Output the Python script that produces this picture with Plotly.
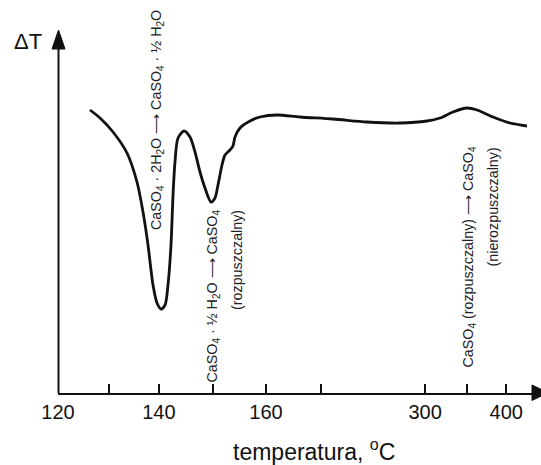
import plotly.graph_objects as go

# DTA curve of gypsum dehydration. The temperature axis is not linear, so the
# curve is stored in axis-scale units (position) with the temperature labels
# attached to chosen tick positions; dT is in arbitrary units.
position = [0.615, 0.808, 1.058, 1.327, 1.519, 1.635, 1.731, 1.827, 1.904, 1.981,
            2.058, 2.115, 2.173, 2.212, 2.25, 2.308, 2.423, 2.538, 2.635, 2.731,
            2.827, 2.942, 3.019, 3.077, 3.154, 3.212, 3.308, 3.365, 3.404, 3.5,
            3.692, 3.885, 4.212, 4.654, 5.288, 5.942, 6.577, 7.096, 7.346, 7.596,
            7.865, 8.058, 8.365, 8.692, 9.019]
delta_t = [28.3, 27.5, 26.1, 24.0, 21.1, 18.1, 14.8, 10.8, 9.0, 8.4,
           8.8, 10.8, 14.8, 19.8, 23.1, 25.5, 26.2, 25.6, 24.1, 22.1,
           20.5, 19.1, 19.5, 20.8, 22.8, 23.8, 24.3, 24.7, 25.6, 26.5,
           27.2, 27.6, 27.8, 27.6, 27.4, 27.1, 27.0, 27.2, 27.5, 28.1,
           28.5, 28.3, 27.6, 27.0, 26.7]

# labelled temperature ticks and the unlabelled ticks between them
tick_positions = [0, 1.94, 4.0, 7.06, 8.62]
tick_labels = ["120", "140", "160", "300", "400"]
minor_tick_positions = [0.98, 2.98, 5.06, 7.87]

# reaction labels, one entry per text line: (text, position, top of the line in dT units)
reaction_lines = [
    ("CaSO<sub>4</sub> · 2H<sub>2</sub>O ⟶ CaSO<sub>4</sub> · ½ H<sub>2</sub>O", 1.904, 38.5),
    ("CaSO<sub>4</sub> · ½ H<sub>2</sub>O ⟶ CaSO<sub>4</sub>", 2.962, 18.5),
    ("(rozpuszczalny)", 3.442, 18.5),
    ("CaSO<sub>4</sub> (rozpuszczalny) ⟶ CaSO<sub>4</sub>", 7.885, 24.8),
    ("(nierozpuszczalny)", 8.365, 24.8),
]

W, H = 541, 465
ML, MB = 58, 72
PW, PH = W - ML, H - MB
XMAX = PW / 52.0
YMAX = PH / 10.0

font_main = "Liberation Sans, Arial, sans-serif"
INK = "#111111"


def px_x(p):
    return (p - ML) / PW


def px_y(p):
    return (PH - p) / PH


fig = go.Figure()
fig.add_trace(go.Scatter(
    x=position, y=delta_t, mode="lines",
    line=dict(color=INK, width=2.8, shape="spline", smoothing=0.8),
    hoverinfo="skip", showlegend=False,
))

annotations = []
for txt, xp, top in reaction_lines:
    annotations.append(dict(
        x=xp, y=top, xref="x", yref="y", text=txt, showarrow=False,
        textangle=-90, xanchor="center", yanchor="top",
        font=dict(family=font_main, size=14.3, color="#222222"),
    ))

annotations.append(dict(
    x=px_x(44), y=px_y(42), xref="paper", yref="paper", text="ΔT",
    xanchor="right", yanchor="middle",
    showarrow=False, font=dict(family=font_main, size=22, color=INK),
))
annotations.append(dict(
    x=px_x(314), y=px_y(467), xref="paper", yref="paper",
    text="temperatura, <sup>o</sup>C", showarrow=False,
    xanchor="center", yanchor="bottom",
    font=dict(family=font_main, size=23, color=INK),
))

shapes = [
    # vertical axis line and its arrowhead
    dict(type="line", xref="paper", yref="paper",
         x0=px_x(58.5), x1=px_x(58.5), y0=px_y(393), y1=px_y(44),
         line=dict(color=INK, width=2)),
    dict(type="path", xref="paper", yref="paper", fillcolor=INK,
         line=dict(color=INK, width=1),
         path=(f"M {px_x(52)} {px_y(49)} L {px_x(65)} {px_y(49)} "
               f"L {px_x(58.5)} {px_y(30)} Z")),
    # horizontal axis arrowhead
    dict(type="path", xref="paper", yref="paper", fillcolor=INK,
         line=dict(color=INK, width=1),
         path=(f"M {px_x(532)} {px_y(385)} L {px_x(532)} {px_y(400.5)} "
               f"L {px_x(548)} {px_y(392.7)} Z")),
]

fig.update_layout(
    width=W, height=H,
    margin=dict(l=ML, r=0, t=0, b=MB),
    paper_bgcolor="white", plot_bgcolor="white",
    font=dict(family=font_main, size=20, color=INK),
    xaxis=dict(
        range=[0, XMAX], showgrid=False, zeroline=False,
        showline=True, linecolor=INK, linewidth=2,
        ticks="inside", ticklen=9, tickwidth=1.5, tickcolor=INK,
        tickmode="array", tickvals=tick_positions, ticktext=tick_labels,
        tickfont=dict(family=font_main, size=20, color=INK),
        minor=dict(tickmode="array", tickvals=minor_tick_positions,
                   ticks="inside", ticklen=9, tickwidth=1.5, tickcolor=INK,
                   showgrid=False),
    ),
    yaxis=dict(range=[0, YMAX], showgrid=False, zeroline=False,
               showline=False, showticklabels=False, ticks=""),
    annotations=annotations,
    shapes=shapes,
)

fig.write_html("out.html")
